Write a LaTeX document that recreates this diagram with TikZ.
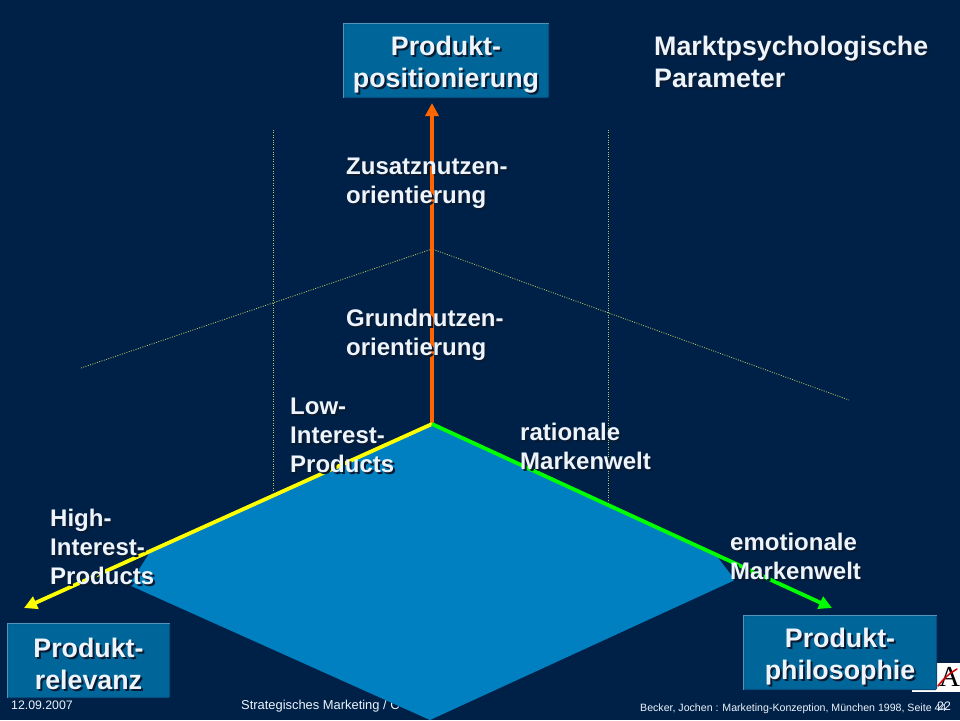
\documentclass[tikz,border=0pt]{standalone}
\usepackage{fontspec}
\setmainfont{Liberation Sans}
\newfontfamily\logofont{Liberation Serif}
\usetikzlibrary{arrows.meta}
\definecolor{bgnavy}{HTML}{002147}
\definecolor{planeblue}{HTML}{0080C0}
\definecolor{boxblue}{HTML}{006699}
\definecolor{boxedge}{HTML}{4F94BD}
\definecolor{boxshade}{HTML}{0A4A78}
\definecolor{paletext}{HTML}{EDF4FC}
\definecolor{shade}{HTML}{0A1A30}
\definecolor{guide}{HTML}{B4C468}
\definecolor{axisorange}{HTML}{FF6600}
\definecolor{axisyellow}{HTML}{FFFF00}
\definecolor{axisgreen}{HTML}{00FF00}
\newcommand{\st}[1]{\leavevmode\rlap{\kern2pt\raisebox{-2pt}{\textcolor{shade}{#1}}}#1}
\newcommand{\drop}{\rule{0pt}{29pt}}
\tikzset{
  x=1pt,y=-1pt,
  titlebox/.style={fill=boxblue,draw=boxshade,line width=1pt,rounded corners=1pt,inner sep=0pt,align=center,text=paletext,
    font=\fontsize{26.8}{32}\selectfont\bfseries},
  boxrim/.style={draw=boxedge,line width=1pt},
  biglabel/.style={anchor=north west,inner sep=0pt,align=left,text=paletext,font=\fontsize{26.8}{32}\selectfont\bfseries},
  smalllabel/.style={anchor=north west,inner sep=0pt,align=left,text=paletext,font=\fontsize{24}{29}\selectfont\bfseries},
  footer/.style={anchor=base west,inner sep=0pt,text=paletext,font=\fontsize{12.3}{14}\selectfont},
  guideline/.style={draw=guide,line width=0.8pt,dash pattern=on 1pt off 1.4pt},
  axis/.style={line width=3.8pt,-{Triangle[length=13pt,width=13pt]}},
}
\begin{document}
\begin{tikzpicture}
\useasboundingbox (0,0) rectangle (960,720);
\fill[bgnavy] (0,0) rectangle (960,720);

% coordinates
\coordinate (origin) at (432,424);
\coordinate (apex) at (432,249);
\coordinate (guideL) at (81,368);
\coordinate (guideR) at (849,400);
\coordinate (v1a) at (273,130);
\coordinate (v1b) at (273,492);
\coordinate (v2a) at (608,130);
\coordinate (v2b) at (608,502);
\coordinate (tipUp) at (432,103);
\coordinate (tipL) at (24,608);
\coordinate (tipR) at (832,608);

% guides
\draw[guideline] (guideL) -- (apex) -- (guideR);
\draw[guideline] (v1a) -- (v1b);
\draw[guideline] (v2a) -- (v2b);

% footer text partly covered by the plane
\node[footer,font=\fontsize{12.9}{14}\selectfont] (foot2) at (241,709) {Strategisches Marketing / C};

% plane
\fill[planeblue] (origin) -- (152,549) -- (129,585) -- (430,720) -- (735,580) -- (716,555) -- cycle;

% logo
\fill[white] (912,663) rectangle (960,692);
\node[anchor=center,inner sep=0pt,font=\fontsize{29}{29}\selectfont\logofont,text=black] (logo) at (949.5,677) {A};
\draw[red!85!black,line width=1.5pt,line cap=round] (938,686) .. controls (944,678) and (950,673) .. (957,669);

% axes
\draw[axis,axisorange] (origin) -- (tipUp);
\draw[axis,axisyellow] (origin) -- (tipL);
\draw[axis,axisgreen] (origin) -- (tipR);

% boxes
\node[titlebox,minimum width=205pt,minimum height=74pt] (top) at (446,60.5) {\drop\st{Produkt-}\\\st{positionierung}};
\draw[boxrim] (top.south west) -- (top.north west) -- (top.north east);
\node[titlebox,minimum width=162pt,minimum height=74pt] (left) at (88.5,660.5) {\drop\st{Produkt-}\\\st{relevanz}};
\draw[boxrim] (left.south west) -- (left.north west) -- (left.north east);
\node[titlebox,minimum width=193pt,minimum height=74pt] (right) at (840,652.5) {\drop\st{Produkt-}\\\st{philosophie}};
\draw[boxrim] (right.south west) -- (right.north west) -- (right.north east);

% labels
\node[biglabel] (title) at (654,36) {\st{Marktpsychologische}\\\st{Parameter}};
\node[smalllabel] (zusatz) at (346,158) {\st{Zusatznutzen-}\\\st{orientierung}};
\node[smalllabel] (grund) at (346,309) {\st{Grundnutzen-}\\\st{orientierung}};
\node[smalllabel] (low) at (290,398) {\st{Low-}\\\st{Interest-}\\\st{Products}};
\node[smalllabel] (high) at (50,509) {\st{High-}\\\st{Interest-}\\\st{Products}};
\node[smalllabel] (rat) at (520,423) {\st{rationale}\\\st{Markenwelt}};
\node[smalllabel] (emo) at (730,533) {\st{emotionale}\\\st{Markenwelt}};

% footers
\node[footer] (foot1) at (11,709) {12.09.2007};
\node[footer,font=\fontsize{10.6}{13}\selectfont] (foot3) at (640,711.5) {Becker, Jochen : Marketing-Konzeption, München 1998, Seite 44};
\node[footer] (foot4) at (937,710) {22};
\end{tikzpicture}
\end{document}
